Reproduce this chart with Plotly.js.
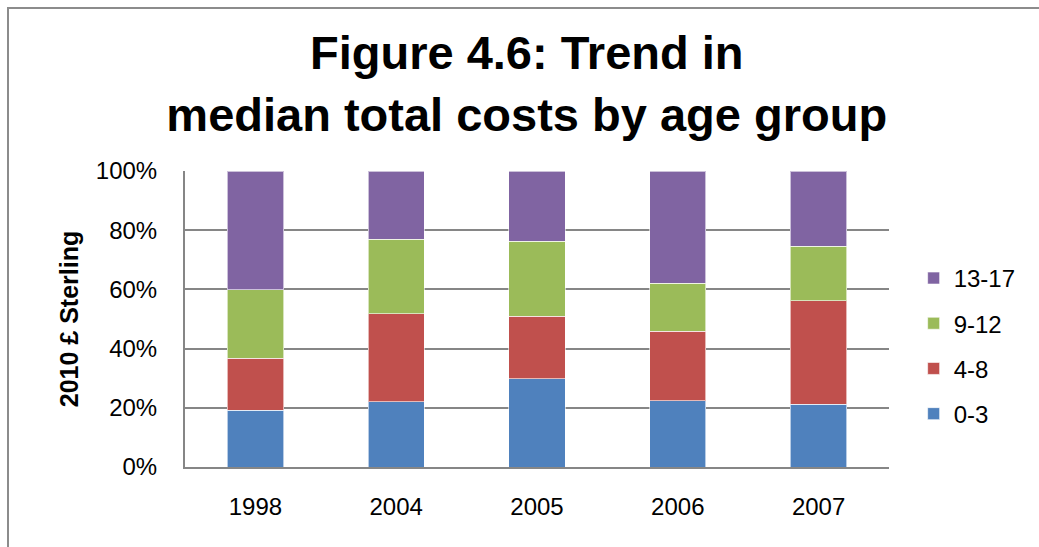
<!DOCTYPE html>
<html>
<head>
<meta charset="utf-8">
<script src="https://cdn.plot.ly/plotly-3.0.1.min.js"></script>
<style>
  html, body { margin: 0; padding: 0; background: #fff; }
  #wrap { position: relative; width: 1039px; height: 547px; overflow: hidden; }
  #chart { position: absolute; left: 0; top: 0; width: 1039px; height: 547px; }
  #frame { position: absolute; left: 7px; top: 7px; width: 1100px; height: 600px;
           border-top: 2px solid #8c8c8c; border-left: 2px solid #8c8c8c; pointer-events: none; }
</style>
</head>
<body>
<div id="wrap">
  <div id="chart"></div>
  <div id="frame"></div>
</div>
<script>
// Data (share of total, %)
const years = ['1998', '2004', '2005', '2006', '2007'];
const age0to3   = [19.2, 22.0, 29.9, 22.3, 21.2];
const age4to8   = [17.6, 29.7, 21.1, 23.5, 34.9];
const age9to12  = [23.1, 25.2, 25.2, 16.3, 18.4];
const age13to17 = [40.1, 23.1, 23.8, 37.9, 25.5];
const seriesNames = ['0-3', '4-8', '9-12', '13-17'];
const yTickVals = [0, 20, 40, 60, 80, 100];
const yTickText = ['0%', '20%', '40%', '60%', '80%', '100%'];

const colors = ['#4F81BD', '#C0504D', '#9BBB59', '#8064A2'];
const seriesValues = [age0to3, age4to8, age9to12, age13to17];

const traces = seriesValues.map((vals, i) => ({
  type: 'bar',
  name: seriesNames[i],
  x: years,
  y: vals,
  legendgroup: 'g' + i,
  legendrank: 1000 - i,
  marker: { color: colors[i], line: { color: 'rgba(255,255,255,0.6)', width: 1 } },
  hoverinfo: 'name+y'
}));

const layout = {
  width: 1039,
  height: 547,
  paper_bgcolor: '#ffffff',
  plot_bgcolor: '#ffffff',
  margin: { l: 185, r: 150, t: 171, b: 80, pad: 0 },
  barmode: 'stack',
  barnorm: 'percent',
  bargap: 0.6,
  font: { family: 'Arial, Liberation Sans, sans-serif', color: '#000000', size: 24 },
  title: {
    text: '<b>Figure 4.6: Trend in<br>median total costs by age group</b>',
    font: { size: 47, family: 'Arial, Liberation Sans, sans-serif', color: '#000' },
    x: 0.507, xanchor: 'center',
    y: 0.873, yanchor: 'middle', yref: 'container'
  },
  xaxis: {
    type: 'category',
    showgrid: false,
    showline: true,
    linecolor: '#868686',
    linewidth: 2,
    ticks: '',
    ticklabelstandoff: 17,
    tickfont: { size: 24 },
    fixedrange: true
  },
  yaxis: {
    range: [0, 100],
    tickvals: yTickVals,
    ticktext: yTickText,
    showgrid: true,
    gridcolor: '#868686',
    gridwidth: 2,
    zeroline: false,
    showline: true,
    linecolor: '#868686',
    linewidth: 2,
    ticks: '',
    ticklabelstandoff: 21,
    tickfont: { size: 24 },
    title: {
      text: '<b>2010 £ Sterling</b>',
      font: { size: 25 },
      standoff: 10
    },
    automargin: false,
    fixedrange: true
  },
  legend: {
    traceorder: 'grouped',
    tracegroupgap: 11,
    x: 1.035, xanchor: 'left',
    y: 0.409, yanchor: 'middle',
    font: { size: 24 },
    bgcolor: 'rgba(0,0,0,0)'
  },
  showlegend: true
};

Plotly.newPlot('chart', traces, layout, { displayModeBar: false, staticPlot: true });
</script>
</body>
</html>
